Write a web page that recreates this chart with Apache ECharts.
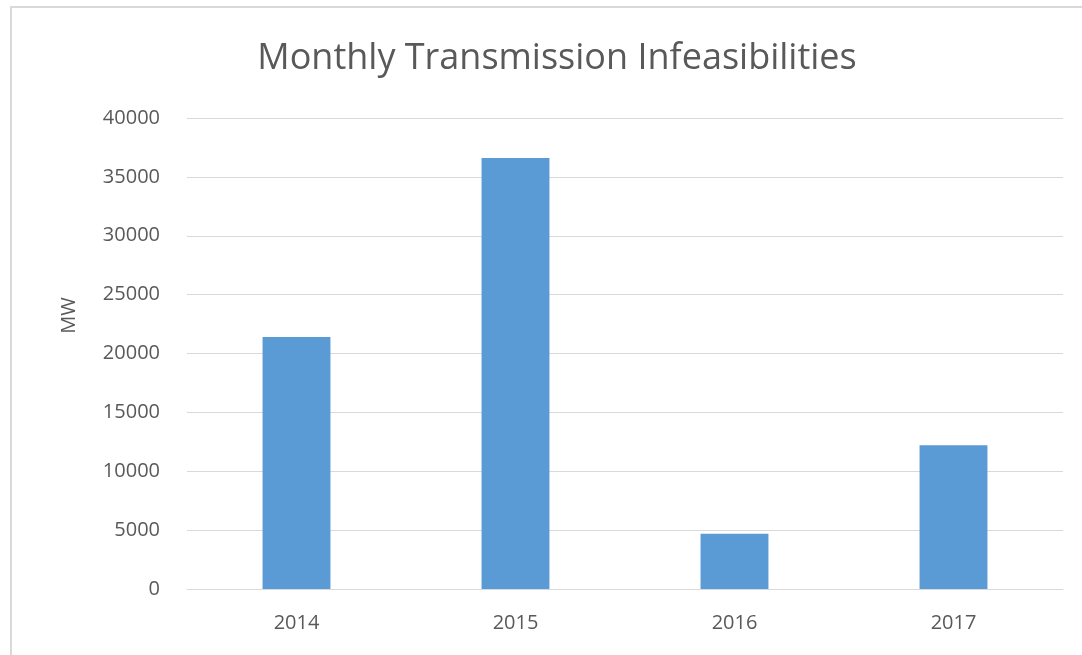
<!DOCTYPE html>
<html>
<head>
<meta charset="utf-8">
<script src="https://cdn.jsdelivr.net/npm/echarts@6/dist/echarts.min.js"></script>
<style>
  html, body { margin: 0; padding: 0; background: #fff; }
  #chart { width: 1082px; height: 655px; }
</style>
</head>
<body>
<div id="chart"></div>
<script>
// data
const years = ['2014', '2015', '2016', '2017']
const infeasibilities = [21400, 36600, 4700, 12200]
const yTicks = [0, 5000, 10000, 15000, 20000, 25000, 30000, 35000, 40000]

const chart = echarts.init(document.getElementById('chart'))
const textColor = '#595959'
const fontFamily = '"Open Sans", "Noto Sans", sans-serif'

chart.setOption({
  backgroundColor: '#fff',
  animation: false,
  title: {
    text: 'Monthly Transmission Infeasibilities',
    left: 552,
    top: 36,
    textAlign: 'center',
    textStyle: { color: textColor, fontSize: 36, fontWeight: 'normal', fontFamily }
  },
  // thin frame round the chart, as in the original export
  graphic: [{
    type: 'rect',
    shape: { x: 11, y: 7, width: 1200, height: 800 },
    style: { fill: null, stroke: '#d9d9d9', lineWidth: 2 },
    silent: true
  }],
  grid: { left: 187, right: 19, top: 118, bottom: 66 },
  xAxis: {
    type: 'category',
    data: years,
    axisTick: { show: false },
    axisLine: { lineStyle: { color: '#d9d9d9', width: 1 } },
    axisLabel: { color: textColor, fontSize: 20, fontFamily, margin: 24 }
  },
  yAxis: {
    type: 'value',
    min: yTicks[0],
    max: yTicks[yTicks.length - 1],
    interval: yTicks[1] - yTicks[0],
    name: 'MW',
    nameLocation: 'middle',
    nameGap: 108,
    nameRotate: 90,
    nameTextStyle: { color: textColor, fontSize: 20, fontFamily, padding: [0, 0, 0, 76] },
    axisLine: { show: false },
    axisTick: { show: false },
    axisLabel: { color: textColor, fontSize: 20, fontFamily, margin: 27, formatter: v => String(v) },
    splitLine: { lineStyle: { color: '#d9d9d9', width: 1 } }
  },
  series: [{
    name: 'MW',
    type: 'bar',
    data: infeasibilities,
    barWidth: '31%',
    itemStyle: { color: '#5b9bd5' }
  }]
})
</script>
</body>
</html>
